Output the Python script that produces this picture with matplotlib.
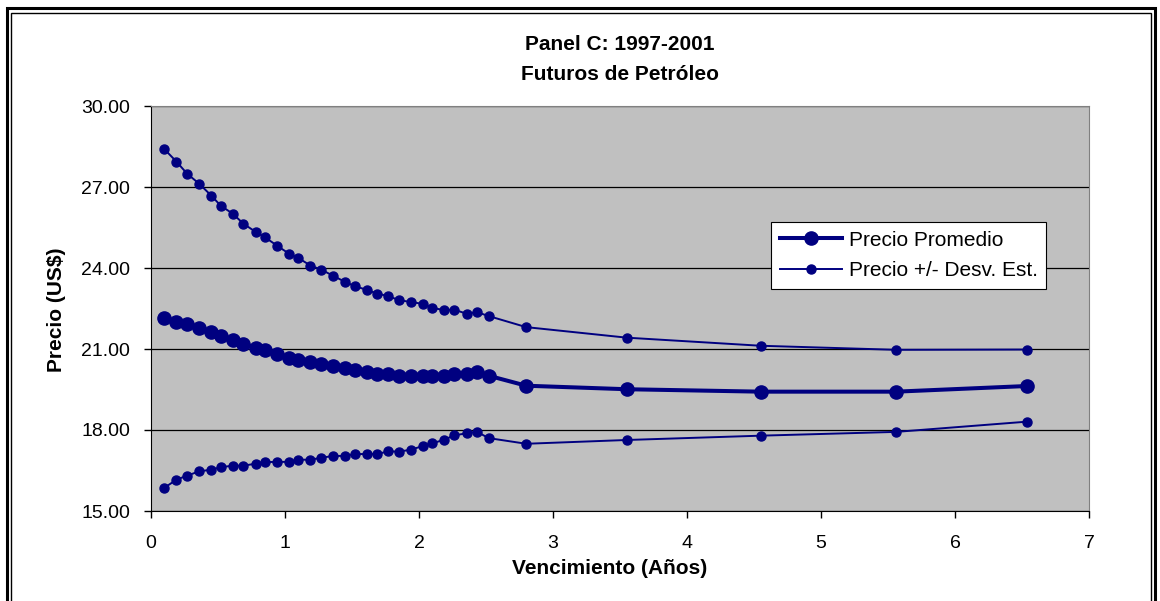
import matplotlib
matplotlib.use('Agg')
import matplotlib.pyplot as plt
from matplotlib.patches import Rectangle
from matplotlib.ticker import FormatStrFormatter, MultipleLocator

plt.rcParams['font.family'] = ['Liberation Sans', 'DejaVu Sans']

# maturity (years)
vencimiento = [0.10, 0.19, 0.27, 0.36, 0.45, 0.52, 0.61, 0.69, 0.78, 0.85,
               0.94, 1.03, 1.10, 1.19, 1.27, 1.36, 1.45, 1.52, 1.61, 1.69,
               1.77, 1.85, 1.94, 2.03, 2.10, 2.19, 2.26, 2.36, 2.43, 2.52,
               2.80, 3.55, 4.55, 5.56, 6.54]

precio_promedio = [22.16, 22.01, 21.94, 21.79, 21.63, 21.48, 21.33, 21.19, 21.05, 20.96,
                   20.81, 20.68, 20.60, 20.53, 20.44, 20.37, 20.30, 20.22, 20.16, 20.09,
                   20.09, 20.01, 20.01, 20.01, 20.01, 20.01, 20.09, 20.09, 20.16, 20.01,
                   19.64, 19.51, 19.42, 19.42, 19.63]

precio_sup = [28.40, 27.94, 27.49, 27.12, 26.68, 26.31, 26.01, 25.64, 25.34, 25.14,
              24.83, 24.53, 24.37, 24.09, 23.94, 23.71, 23.48, 23.33, 23.19, 23.05,
              22.96, 22.81, 22.74, 22.67, 22.52, 22.44, 22.46, 22.30, 22.37, 22.22,
              21.81, 21.42, 21.12, 20.97, 20.98]

precio_inf = [15.86, 16.16, 16.31, 16.47, 16.53, 16.62, 16.68, 16.68, 16.75, 16.81,
              16.82, 16.82, 16.90, 16.90, 16.97, 17.04, 17.04, 17.11, 17.11, 17.11,
              17.21, 17.20, 17.27, 17.41, 17.51, 17.64, 17.80, 17.88, 17.94, 17.70,
              17.49, 17.63, 17.79, 17.93, 18.31]

navy = '#000080'
W, H = 1160, 601

fig = plt.figure(figsize=(W / 100, H / 100), dpi=100)
ax = fig.add_axes([151 / W, 1 - 511 / H, 938 / W, 405 / H])

# double frame around the whole chart (Excel style)
fig.patches.append(Rectangle((7 / W, -0.05), 1148 / W, 1 - 8 / H + 0.05,
                             transform=fig.transFigure, fill=False,
                             edgecolor='black', linewidth=2.2))
fig.patches.append(Rectangle((11 / W, -0.05), 1140 / W, 1 - 13 / H + 0.05,
                             transform=fig.transFigure, fill=False,
                             edgecolor='black', linewidth=1.0))

ax.set_facecolor('#C0C0C0')
ax.plot(vencimiento, precio_sup, color=navy, lw=1.4, marker='o', ms=6.5,
        label='Precio +/- Desv. Est.', zorder=3)
ax.plot(vencimiento, precio_inf, color=navy, lw=1.4, marker='o', ms=6.5, zorder=3)
ax.plot(vencimiento, precio_promedio, color=navy, lw=2.9, marker='o', ms=9.5,
        label='Precio Promedio', zorder=4)

ax.set_xlim(0, 7)
ax.set_ylim(15, 30)
ax.xaxis.set_major_locator(MultipleLocator(1))
ax.yaxis.set_major_locator(MultipleLocator(3))
ax.yaxis.set_major_formatter(FormatStrFormatter('%.2f'))
ax.grid(axis='y', color='black', linewidth=0.9)
ax.set_axisbelow(True)

for s in ['top', 'right']:
    ax.spines[s].set_color('#808080')
for s in ['left', 'bottom']:
    ax.spines[s].set_color('black')
ax.tick_params(direction='out', length=5, width=1, labelsize=14)
ax.tick_params(axis='x', pad=12)
ax.tick_params(axis='y', pad=10)

# axis titles
fig.text(610 / W, 1 - 569 / H, 'Vencimiento (Años)', ha='center', va='center',
         fontsize=15, fontweight='bold')
fig.text(56 / W, 1 - 310 / H, 'Precio (US$)', ha='center', va='center',
         rotation=90, fontsize=15, fontweight='bold')

fig.text(620 / W, 1 - 45 / H, 'Panel C: 1997-2001', ha='center', va='center',
         fontsize=15, fontweight='bold')
fig.text(620 / W, 1 - 75 / H, 'Futuros de Petróleo', ha='center', va='center',
         fontsize=15, fontweight='bold')

handles, labels = ax.get_legend_handles_labels()
leg = ax.legend(handles[::-1], labels[::-1], loc='upper left',
                bbox_to_anchor=(0.661, 0.714), fontsize=15, frameon=True,
                fancybox=False, edgecolor='black', framealpha=1,
                borderpad=0.42, handlelength=3.0, labelspacing=0.55,
                handletextpad=0.3, borderaxespad=0)
leg.get_frame().set_linewidth(0.8)

fig.savefig('out.png', dpi=100)
